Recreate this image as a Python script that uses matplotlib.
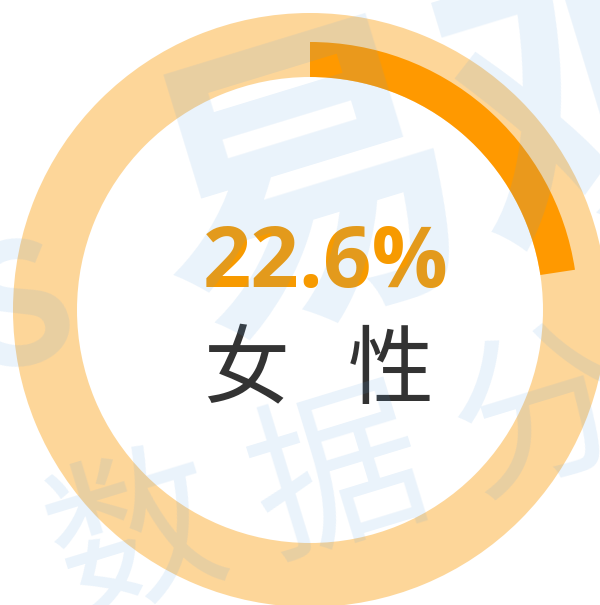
import matplotlib
matplotlib.use("Agg")
import matplotlib.pyplot as plt

# data
share_female = 22.6
share_rest = 100 - share_female
value_label = "22.6%"
category_label = "女   性"
watermark_big = "易观"
watermark_small = "数 据 分 析"

W, H = 600, 605
cx, cy = 310, H - 310

fig = plt.figure(figsize=(W / 100, H / 100), dpi=100)
ax = fig.add_axes([0, 0, 1, 1])

# background ring
ax.pie([100], radius=297, center=(cx, cy), colors=["#FDD699"],
       wedgeprops=dict(width=64, linewidth=0), startangle=90)
# value arc
ax.pie([share_female, share_rest], radius=268, center=(cx, cy),
       colors=["#FF9900", "none"], startangle=90, counterclock=False,
       wedgeprops=dict(width=35, linewidth=0))

ax.set_xlim(0, W)
ax.set_ylim(0, H)
ax.set_aspect("equal")
ax.axis("off")

ax.text(cx + 16, H - 265, value_label, ha="center", va="center",
        fontsize=61, fontweight="bold", color="#F79A00",
        family=["Open Sans", "DejaVu Sans"])
ax.text(cx + 9, H - 373, category_label, ha="center", va="center",
        fontsize=62, color="#333333",
        family=["Noto Sans CJK SC", "DejaVu Sans"])

# watermark
wm = dict(color="#5AA0E0", alpha=0.13, family=["Noto Sans CJK SC", "DejaVu Sans"],
          rotation=17, rotation_mode="anchor", zorder=10)
ax.text(185, H - 335, watermark_big, fontsize=230, fontweight="heavy", **wm)
ax.text(-15, H - 375, "S", fontsize=120, fontweight="bold", **wm)
ax.text(70, H - 615, watermark_small, fontsize=124, **wm)

fig.savefig("out.png", dpi=100)
